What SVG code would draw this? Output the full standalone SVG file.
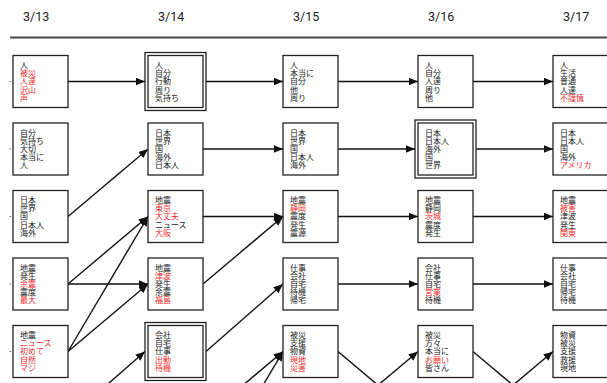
<svg xmlns="http://www.w3.org/2000/svg" width="607" height="383" viewBox="0 0 607 383">
<defs>
<marker id="ah" markerUnits="userSpaceOnUse" markerWidth="10" markerHeight="8" refX="9.5" refY="4" orient="auto">
<path d="M0,0 L9.5,4 L0,8 Z" fill="#111"/>
</marker>
<style>
.bx{fill:#fff;stroke:#222;stroke-width:1.3}
.t{font-family:"Noto Sans CJK JP","Noto Sans",sans-serif;font-size:8px;fill:#222}
.r{fill:#f02b2b}
.d{font-family:"Roboto","Liberation Sans",sans-serif;font-size:12.5px;fill:#222}
.c{stroke:#111;stroke-width:1.4;fill:none}
.ca{stroke:#111;stroke-width:1.4;fill:none;marker-end:url(#ah)}
.tk{stroke:#999;stroke-width:1}
</style>
</defs>
<rect width="607" height="383" fill="#fff"/>
<g id="header">
<text class="d" x="23" y="21">3/13</text>
<text class="d" x="158" y="21">3/14</text>
<text class="d" x="293" y="21">3/15</text>
<text class="d" x="428" y="21">3/16</text>
<text class="d" x="563" y="21">3/17</text>
<line x1="10" y1="37.5" x2="607" y2="37.5" stroke="#444" stroke-width="1.8"/>
</g>
<g id="connectors">
<line class="tk" x1="9" y1="81.5" x2="11.5" y2="81.5"/>
<line class="tk" x1="9" y1="149" x2="11.5" y2="149"/>
<line class="tk" x1="9" y1="216.5" x2="11.5" y2="216.5"/>
<line class="tk" x1="9" y1="284" x2="11.5" y2="284"/>
<line class="tk" x1="9" y1="351.5" x2="11.5" y2="351.5"/>
<line class="ca" x1="68" y1="81.5" x2="145" y2="81.5"/>
<line class="ca" x1="68" y1="216.5" x2="148" y2="149"/>
<line class="ca" x1="68" y1="284" x2="148" y2="216.5"/>
<line class="ca" x1="68" y1="284" x2="148" y2="284"/>
<line class="ca" x1="68" y1="351.5" x2="148" y2="216.5"/>
<line class="ca" x1="68" y1="351.5" x2="148" y2="284"/>
<line class="ca" x1="68" y1="419" x2="145" y2="351.5"/>
<line class="ca" x1="206" y1="81.5" x2="283" y2="81.5"/>
<line class="ca" x1="203" y1="149" x2="283" y2="149"/>
<line class="ca" x1="203" y1="216.5" x2="283" y2="216.5"/>
<line class="ca" x1="203" y1="284" x2="283" y2="216.5"/>
<line class="ca" x1="206" y1="351.5" x2="283" y2="284"/>
<line class="ca" x1="203" y1="419" x2="283" y2="351.5"/>
<line class="ca" x1="203" y1="486.5" x2="283" y2="351.5"/>
<line class="ca" x1="338" y1="81.5" x2="418" y2="81.5"/>
<line class="ca" x1="338" y1="149" x2="415" y2="149"/>
<line class="ca" x1="338" y1="216.5" x2="418" y2="216.5"/>
<line class="ca" x1="338" y1="284" x2="418" y2="284"/>
<line class="c" x1="338" y1="351.5" x2="418" y2="419"/>
<line class="ca" x1="338" y1="419" x2="418" y2="351.5"/>
<line class="ca" x1="473" y1="81.5" x2="553" y2="81.5"/>
<line class="ca" x1="476" y1="149" x2="553" y2="149"/>
<line class="ca" x1="473" y1="216.5" x2="553" y2="216.5"/>
<line class="ca" x1="473" y1="284" x2="553" y2="284"/>
<line class="c" x1="473" y1="351.5" x2="553" y2="419"/>
<line class="ca" x1="473" y1="419" x2="553" y2="351.5"/>
</g>
<g id="n13_1"><rect class="bx" x="13" y="55.5" width="55" height="52"/><text class="t" x="20" y="68"><tspan x="20">人</tspan><tspan x="20" dy="8.2" class="r">被災</tspan><tspan x="20" dy="8.2" class="r">人達</tspan><tspan x="20" dy="8.2" class="r">沢山</tspan><tspan x="20" dy="8.2" class="r">声</tspan></text></g>
<g id="n13_2"><rect class="bx" x="13" y="123" width="55" height="52"/><text class="t" x="20" y="135.5"><tspan x="20">自分</tspan><tspan x="20" dy="8.2">気持ち</tspan><tspan x="20" dy="8.2">大切</tspan><tspan x="20" dy="8.2">本当に</tspan><tspan x="20" dy="8.2">人</tspan></text></g>
<g id="n13_3"><rect class="bx" x="13" y="190.5" width="55" height="52"/><text class="t" x="20" y="203"><tspan x="20">日本</tspan><tspan x="20" dy="8.2">世界</tspan><tspan x="20" dy="8.2">国</tspan><tspan x="20" dy="8.2">日本人</tspan><tspan x="20" dy="8.2">海外</tspan></text></g>
<g id="n13_4"><rect class="bx" x="13" y="258" width="55" height="52"/><text class="t" x="20" y="270.5"><tspan x="20">地震</tspan><tspan x="20" dy="8.2">発生</tspan><tspan x="20" dy="8.2" class="r">余震</tspan><tspan x="20" dy="8.2">震度</tspan><tspan x="20" dy="8.2" class="r">最大</tspan></text></g>
<g id="n13_5"><rect class="bx" x="13" y="325.5" width="55" height="52"/><text class="t" x="20" y="338"><tspan x="20">地震</tspan><tspan x="20" dy="8.2" class="r">ニュース</tspan><tspan x="20" dy="8.2" class="r">初めて</tspan><tspan x="20" dy="8.2" class="r">自然</tspan><tspan x="20" dy="8.2" class="r">マジ</tspan></text></g>
<g id="n14_1"><rect class="bx" x="145" y="52.5" width="61" height="58"/><rect class="bx" x="148" y="55.5" width="55" height="52"/><text class="t" x="155" y="68"><tspan x="155">人</tspan><tspan x="155" dy="8.2">自分</tspan><tspan x="155" dy="8.2">行動</tspan><tspan x="155" dy="8.2">周り</tspan><tspan x="155" dy="8.2">気持ち</tspan></text></g>
<g id="n14_2"><rect class="bx" x="148" y="123" width="55" height="52"/><text class="t" x="155" y="135.5"><tspan x="155">日本</tspan><tspan x="155" dy="8.2">世界</tspan><tspan x="155" dy="8.2">国</tspan><tspan x="155" dy="8.2">海外</tspan><tspan x="155" dy="8.2">日本人</tspan></text></g>
<g id="n14_3"><rect class="bx" x="148" y="190.5" width="55" height="52"/><text class="t" x="155" y="203"><tspan x="155">地震</tspan><tspan x="155" dy="8.2" class="r">東京</tspan><tspan x="155" dy="8.2" class="r">大丈夫</tspan><tspan x="155" dy="8.2">ニュース</tspan><tspan x="155" dy="8.2" class="r">大阪</tspan></text></g>
<g id="n14_4"><rect class="bx" x="148" y="258" width="55" height="52"/><text class="t" x="155" y="270.5"><tspan x="155">地震</tspan><tspan x="155" dy="8.2" class="r">津波</tspan><tspan x="155" dy="8.2">発生</tspan><tspan x="155" dy="8.2">余震</tspan><tspan x="155" dy="8.2" class="r">福島</tspan></text></g>
<g id="n14_5"><rect class="bx" x="145" y="322.5" width="61" height="58"/><rect class="bx" x="148" y="325.5" width="55" height="52"/><text class="t" x="155" y="338"><tspan x="155">会社</tspan><tspan x="155" dy="8.2">自宅</tspan><tspan x="155" dy="8.2">仕事</tspan><tspan x="155" dy="8.2" class="r">出勤</tspan><tspan x="155" dy="8.2" class="r">待機</tspan></text></g>
<g id="n15_1"><rect class="bx" x="283" y="55.5" width="55" height="52"/><text class="t" x="290" y="68"><tspan x="290">人</tspan><tspan x="290" dy="8.2">本当に</tspan><tspan x="290" dy="8.2">自分</tspan><tspan x="290" dy="8.2">他</tspan><tspan x="290" dy="8.2">周り</tspan></text></g>
<g id="n15_2"><rect class="bx" x="283" y="123" width="55" height="52"/><text class="t" x="290" y="135.5"><tspan x="290">日本</tspan><tspan x="290" dy="8.2">世界</tspan><tspan x="290" dy="8.2">国</tspan><tspan x="290" dy="8.2">日本人</tspan><tspan x="290" dy="8.2">海外</tspan></text></g>
<g id="n15_3"><rect class="bx" x="283" y="190.5" width="55" height="52"/><text class="t" x="290" y="203"><tspan x="290">地震</tspan><tspan x="290" dy="8.2" class="r">静岡</tspan><tspan x="290" dy="8.2">震度</tspan><tspan x="290" dy="8.2">発生</tspan><tspan x="290" dy="8.2">震源</tspan></text></g>
<g id="n15_4"><rect class="bx" x="283" y="258" width="55" height="52"/><text class="t" x="290" y="270.5"><tspan x="290">仕事</tspan><tspan x="290" dy="8.2">会社</tspan><tspan x="290" dy="8.2">自宅</tspan><tspan x="290" dy="8.2">待機</tspan><tspan x="290" dy="8.2">帰宅</tspan></text></g>
<g id="n15_5"><rect class="bx" x="283" y="325.5" width="55" height="52"/><text class="t" x="290" y="338"><tspan x="290">被災</tspan><tspan x="290" dy="8.2">支援</tspan><tspan x="290" dy="8.2">物資</tspan><tspan x="290" dy="8.2" class="r">現地</tspan><tspan x="290" dy="8.2" class="r">災害</tspan></text></g>
<g id="n16_1"><rect class="bx" x="418" y="55.5" width="55" height="52"/><text class="t" x="425" y="68"><tspan x="425">人</tspan><tspan x="425" dy="8.2">自分</tspan><tspan x="425" dy="8.2">人達</tspan><tspan x="425" dy="8.2">周り</tspan><tspan x="425" dy="8.2">他</tspan></text></g>
<g id="n16_2"><rect class="bx" x="415" y="120" width="61" height="58"/><rect class="bx" x="418" y="123" width="55" height="52"/><text class="t" x="425" y="135.5"><tspan x="425">日本</tspan><tspan x="425" dy="8.2">日本人</tspan><tspan x="425" dy="8.2">海外</tspan><tspan x="425" dy="8.2">国</tspan><tspan x="425" dy="8.2">世界</tspan></text></g>
<g id="n16_3"><rect class="bx" x="418" y="190.5" width="55" height="52"/><text class="t" x="425" y="203"><tspan x="425">地震</tspan><tspan x="425" dy="8.2">静岡</tspan><tspan x="425" dy="8.2" class="r">茨城</tspan><tspan x="425" dy="8.2">震度</tspan><tspan x="425" dy="8.2">発生</tspan></text></g>
<g id="n16_4"><rect class="bx" x="418" y="258" width="55" height="52"/><text class="t" x="425" y="270.5"><tspan x="425">会社</tspan><tspan x="425" dy="8.2">仕事</tspan><tspan x="425" dy="8.2">自宅</tspan><tspan x="425" dy="8.2" class="r">営業</tspan><tspan x="425" dy="8.2">待機</tspan></text></g>
<g id="n16_5"><rect class="bx" x="418" y="325.5" width="55" height="52"/><text class="t" x="425" y="338"><tspan x="425">被災</tspan><tspan x="425" dy="8.2">方々</tspan><tspan x="425" dy="8.2">本当に</tspan><tspan x="425" dy="8.2" class="r">お願い</tspan><tspan x="425" dy="8.2">皆さん</tspan></text></g>
<g id="n17_1"><rect class="bx" x="553" y="55.5" width="55" height="52"/><text class="t" x="560" y="68"><tspan x="560">人</tspan><tspan x="560" dy="8.2">生活</tspan><tspan x="560" dy="8.2">普通</tspan><tspan x="560" dy="8.2">人達</tspan><tspan x="560" dy="8.2" class="r">不謹慎</tspan></text></g>
<g id="n17_2"><rect class="bx" x="553" y="123" width="55" height="52"/><text class="t" x="560" y="135.5"><tspan x="560">日本</tspan><tspan x="560" dy="8.2">日本人</tspan><tspan x="560" dy="8.2">国</tspan><tspan x="560" dy="8.2">海外</tspan><tspan x="560" dy="8.2" class="r">アメリカ</tspan></text></g>
<g id="n17_3"><rect class="bx" x="553" y="190.5" width="55" height="52"/><text class="t" x="560" y="203"><tspan x="560">地震</tspan><tspan x="560" dy="8.2" class="r">被害</tspan><tspan x="560" dy="8.2">津波</tspan><tspan x="560" dy="8.2">発生</tspan><tspan x="560" dy="8.2" class="r">関東</tspan></text></g>
<g id="n17_4"><rect class="bx" x="553" y="258" width="55" height="52"/><text class="t" x="560" y="270.5"><tspan x="560">仕事</tspan><tspan x="560" dy="8.2">会社</tspan><tspan x="560" dy="8.2">自宅</tspan><tspan x="560" dy="8.2">帰宅</tspan><tspan x="560" dy="8.2">待機</tspan></text></g>
<g id="n17_5"><rect class="bx" x="553" y="325.5" width="55" height="52"/><text class="t" x="560" y="338"><tspan x="560">物資</tspan><tspan x="560" dy="8.2">被災</tspan><tspan x="560" dy="8.2">支援</tspan><tspan x="560" dy="8.2">救援</tspan><tspan x="560" dy="8.2">現地</tspan></text></g>
</svg>
